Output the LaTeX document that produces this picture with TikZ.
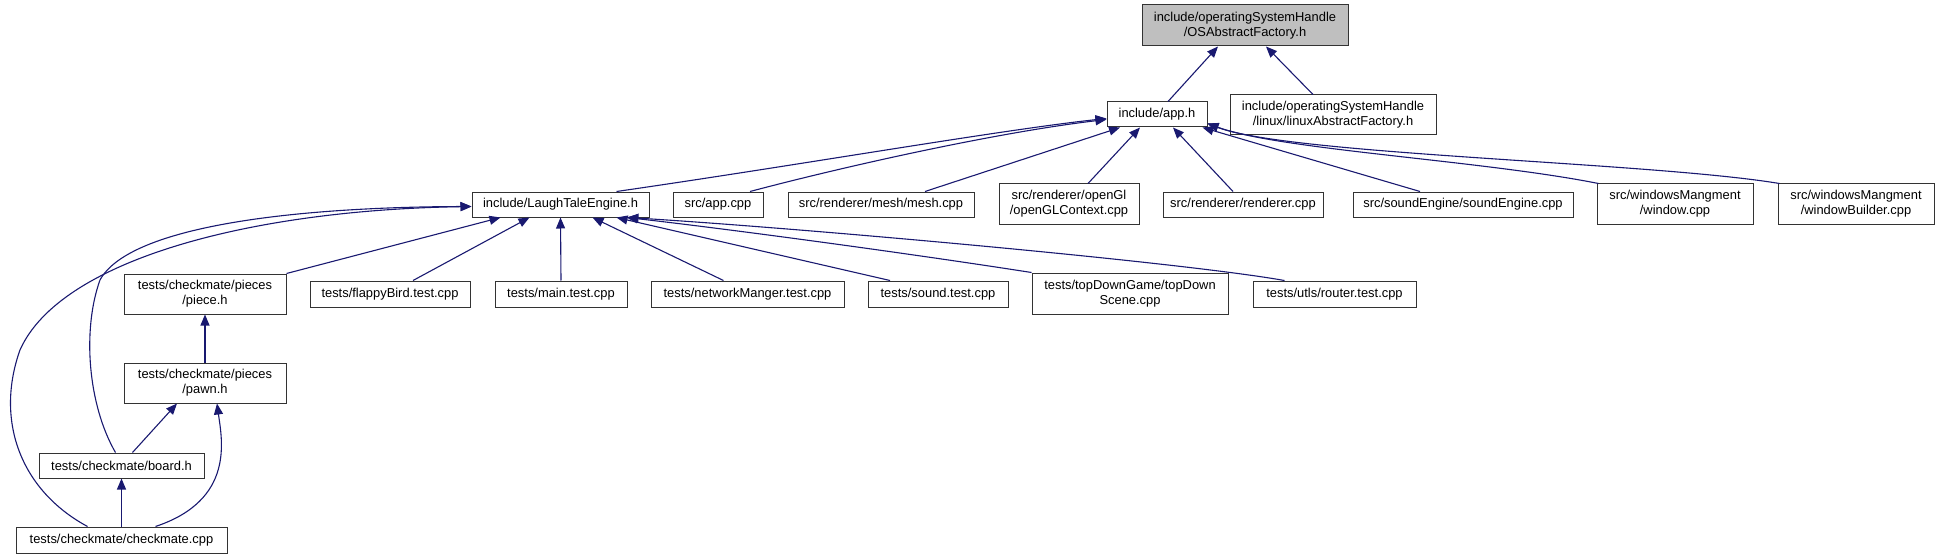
\documentclass[tikz,border=0pt]{standalone}
\usepackage{fontspec}
\setmainfont{Liberation Sans}
\usetikzlibrary{arrows.meta}
\definecolor{coledge}{HTML}{191970}
\definecolor{colroot}{HTML}{BFBFBF}

\begin{document}
\begin{tikzpicture}[
  x=1pt,y=-1pt,
  font=\fontsize{12.9}{15}\selectfont,
  file/.style={draw=black!80,line width=1pt,inner sep=0pt,align=center,
               minimum height=25pt},
  tall/.style={file,minimum height=40pt},
  root/.style={tall,fill=colroot},
  uses/.style={coledge,line width=1.1pt,-{Triangle[length=11pt,width=9pt]}},
]
  \useasboundingbox (0,0) rectangle (1939,559);

  % fila de arriba
  \node[root,minimum width=206pt,minimum height=41pt] (os) at (1245,25.5)
        {include/operatingSystemHandle\\/OSAbstractFactory.h};
  \node[file,minimum width=100pt] (app) at (1157,114.5) {include/app.h};
  \node[tall,minimum width=206pt] (linux) at (1333,115)
        {include/operatingSystemHandle\\/linux/linuxAbstractFactory.h};

  % quienes incluyen app.h
  \node[file,minimum width=177pt] (lte) at (560.5,204.5) {include/LaughTaleEngine.h};
  \node[file,minimum width=90pt] (appcpp) at (718,204.5) {src/app.cpp};
  \node[file,minimum width=186pt] (mesh) at (881,204.5) {src/renderer/mesh/mesh.cpp};
  \node[tall,minimum width=140pt] (opengl) at (1069,204)
        {src/renderer/openGl\\/openGLContext.cpp};
  \node[file,minimum width=160pt] (renderer) at (1243,204.5) {src/renderer/renderer.cpp};
  \node[file,minimum width=220pt] (sound) at (1463,204.5) {src/soundEngine/soundEngine.cpp};
  \node[tall,minimum width=156pt] (window) at (1675,204)
        {src/windowsMangment\\/window.cpp};
  \node[tall,minimum width=156pt] (wbuilder) at (1856,204)
        {src/windowsMangment\\/windowBuilder.cpp};

  % quienes incluyen LaughTaleEngine.h
  \node[tall,minimum width=162pt] (piece) at (205,294)
        {tests/checkmate/pieces\\/piece.h};
  \node[file,minimum width=160pt,minimum height=26pt] (flappy) at (390,294)
        {tests/flappyBird.test.cpp};
  \node[file,minimum width=132pt,minimum height=26pt] (maintest) at (561,294)
        {tests/main.test.cpp};
  \node[file,minimum width=193pt,minimum height=26pt] (network) at (747.5,294)
        {tests/networkManger.test.cpp};
  \node[file,minimum width=140pt,minimum height=26pt] (soundtest) at (938,294)
        {tests/sound.test.cpp};
  \node[tall,minimum width=196pt,minimum height=41pt] (topdown) at (1130,293.5)
        {tests/topDownGame/topDown\\Scene.cpp};
  \node[file,minimum width=163pt,minimum height=26pt] (router) at (1334.5,294)
        {tests/utls/router.test.cpp};

  \node[tall,minimum width=162pt] (pawn) at (205,383)
        {tests/checkmate/pieces\\/pawn.h};
  \node[file,minimum width=165pt] (board) at (121.5,465.5) {tests/checkmate/board.h};
  \node[file,minimum width=211pt,minimum height=26pt] (checkmate) at (121.5,540)
        {tests/checkmate/checkmate.cpp};

  % hacia OSAbstractFactory.h
  \draw[uses] ([xshift=11pt]app.north) -- ([xshift=-27pt]os.south);
  \draw[uses] ([xshift=-20pt]linux.north) -- ([xshift=21pt]os.south);

  % hacia app.h
  \draw[uses] ([xshift=56pt]lte.north) .. controls (800,165) and (1000,130)
        .. ([yshift=-4pt]app.west);
  \draw[uses] ([xshift=32pt]appcpp.north) .. controls (850,165) and (1000,132)
        .. ([yshift=-5pt]app.west);
  \draw[uses] ([xshift=44pt]mesh.north) -- ([xshift=-37pt]app.south);
  \draw[uses] ([xshift=19pt]opengl.north) -- ([xshift=-17pt]app.south);
  \draw[uses] ([xshift=-10pt]renderer.north) -- ([xshift=16pt]app.south);
  \draw[uses] ([xshift=-43pt]sound.north) -- ([xshift=-5pt]app.south east);
  \draw[uses] ([xshift=2pt]window.north west) .. controls (1480,160) and (1280,150)
        .. ([yshift=-9pt]app.east);
  \draw[uses] ([xshift=2pt]wbuilder.north west) .. controls (1650,162) and (1290,155)
        .. ([yshift=-9pt]app.east);

  % hacia LaughTaleEngine.h
  \draw[uses] (piece.north east) -- ([xshift=-60pt]lte.south);
  \draw[uses] ([xshift=23pt]flappy.north) -- ([xshift=-31pt]lte.south);
  \draw[uses] (maintest.north) -- (lte.south);
  \draw[uses] ([xshift=-24pt]network.north) -- ([xshift=32pt]lte.south);
  \draw[uses] ([xshift=-48pt]soundtest.north) -- ([xshift=56pt]lte.south);
  \draw[uses] (topdown.north west) .. controls (900,252) and (720,228)
        .. ([xshift=66pt]lte.south);
  \draw[uses] ([xshift=-50pt]router.north) .. controls (1180,262) and (800,228)
        .. ([xshift=67pt]lte.south);
  \draw[uses] ([xshift=-6pt]board.north) .. controls (88,405) and (82,330) .. (100,280)
        .. controls (130,225) and (300,207) .. ([yshift=-2pt]lte.west);
  \draw[uses] ([xshift=-34pt]checkmate.north) .. controls (20,490) and (-5,420) .. (20,350)
        .. controls (60,260) and (250,210) .. ([yshift=-2pt]lte.west);

  % piezas del ajedrez
  \draw[uses] (pawn.north) -- (piece.south);
  \draw[uses] ([xshift=11pt]board.north) -- ([xshift=-28pt]pawn.south);
  \draw[uses] ([xshift=34pt]checkmate.north) .. controls (235,500) and (222,440)
        .. ([xshift=12pt]pawn.south);
  \draw[uses] (checkmate.north) -- (board.south);
\end{tikzpicture}
\end{document}
